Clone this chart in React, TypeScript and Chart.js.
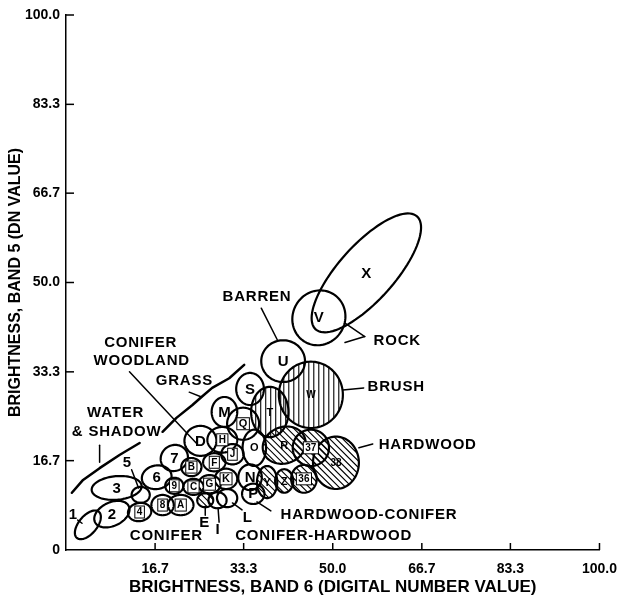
import React, { useEffect, useRef } from 'react';
import { Chart, registerables } from 'chart.js';

Chart.register(...registerables);

// ---- axis ticks ----
const xTickValues = [16.7, 33.3, 50.0, 66.7, 83.3, 100.0];
const xTickLabels = ['16.7', '33.3', '50.0', '66.7', '83.3', '100.0'];
const yTickValues = [0, 16.7, 33.3, 50.0, 66.7, 83.3, 100.0];
const yTickLabels = ['0', '16.7', '33.3', '50.0', '66.7', '83.3', '100.0'];

// ---- class ellipses (band 6 mean, band 5 mean, semi-axes, tilt, hatch) ----
const classNames = ['1', '2', '3', '4', '5', '6', '7', '8', '9', 'A', 'B', 'C', 'D', 'E', 'F', 'G', 'H', 'I', 'J', 'K', 'L', 'M', 'N', 'O', 'P', 'Q', 'R', 'S', 'T', 'U', 'V', 'W', 'X', 'Y', 'Z', '36', '37', '38'];
const meanBand6 = [4.1, 8.6, 9.5, 13.8, 14.0, 17.0, 20.3, 18.1, 20.3, 21.5, 23.5, 23.9, 25.2, 26.1, 27.8, 26.9, 29.3, 28.4, 31.2, 30.0, 30.2, 29.7, 34.5, 35.3, 35.1, 33.2, 40.9, 34.5, 38.2, 40.7, 47.4, 45.9, 56.3, 37.7, 40.9, 44.6, 45.9, 50.6];
const meanBand5 = [4.7, 6.7, 11.6, 7.1, 10.3, 13.6, 17.2, 8.4, 12.0, 8.4, 15.5, 11.8, 20.4, 9.3, 16.4, 12.3, 20.6, 9.3, 17.9, 13.3, 9.7, 25.8, 13.6, 19.1, 10.5, 23.6, 19.6, 30.1, 25.8, 35.3, 43.4, 29.0, 51.8, 12.7, 12.9, 13.3, 19.1, 16.3];
const semiMajor = [3.2, 3.5, 4.7, 2.2, 1.7, 2.8, 2.6, 2.1, 1.7, 2.4, 1.9, 1.9, 3.0, 1.5, 2.1, 2.1, 2.8, 1.7, 2.1, 2.1, 1.9, 2.8, 2.4, 3.4, 2.1, 3.0, 4.1, 3.0, 4.7, 4.1, 5.2, 6.2, 14.2, 3.0, 2.2, 2.6, 3.4, 4.9];
const semiMinor = [1.7, 2.2, 2.2, 1.7, 1.5, 2.2, 2.4, 1.9, 1.5, 1.9, 1.7, 1.5, 2.8, 1.3, 1.7, 1.7, 2.4, 1.5, 1.9, 1.9, 1.7, 2.4, 2.2, 2.2, 1.9, 3.0, 3.4, 2.6, 3.5, 3.9, 4.9, 6.0, 5.2, 1.9, 1.7, 2.4, 3.4, 4.3];
const tiltDeg = [50, 25, 5, 10, 0, 10, 30, 0, 0, 0, 0, 0, 0, 0, 0, 0, 0, 0, 0, 0, 0, 90, 90, 90, 0, 0, 20, 90, 90, 0, 60, 90, 48, 90, 90, 90, 0, 90];
const hatchKind = ['', '', '', '', '', '', '', '', '', '', '', '', '', 'd', '', '', '', '', '', '', '', '', '', '', '', '', 'd', '', 'v', '', '', 'v', '', 'd', 'd', 'd', 'd', 'd'];

// classes whose identifiers are written outside the ellipse
const outsideLabelled = ['1', '5', 'E', 'I', 'L'];

// ---- annotation texts ----
const noteTexts = ['BARREN', 'ROCK', 'BRUSH', 'HARDWOOD', 'HARDWOOD-CONIFER', 'CONIFER-HARDWOOD', 'CONIFER', 'CONIFER', 'WOODLAND', 'GRASS', 'WATER', '& SHADOW', '1', '5', 'E', 'I', 'L'];
const noteX = [35.8, 62.1, 61.9, 67.8, 56.8, 48.3, 18.8, 14.0, 14.2, 22.2, 9.3, 9.5, 1.3, 11.4, 25.9, 28.4, 34.0];
const noteY = [47.3, 39.1, 30.5, 19.6, 6.6, 2.6, 2.6, 38.7, 35.3, 31.6, 25.6, 22.1, 6.5, 16.3, 5.0, 3.7, 6.0];

// ---- leader lines ----
const leaderX1 = [36.6, 56.0, 56.0, 51.9, 54.9, 38.4, 11.9, 23.1, 6.3, 2.2, 12.3, 26.1, 28.7, 33.0];
const leaderY1 = [45.2, 39.9, 39.9, 29.9, 19.1, 7.3, 33.3, 29.5, 19.6, 5.6, 15.0, 6.5, 5.2, 7.5];
const leaderX2 = [39.6, 52.3, 52.3, 55.8, 57.5, 35.8, 24.4, 25.4, 6.3, 3.0, 13.6, 26.1, 28.5, 31.2];
const leaderY2 = [39.3, 42.4, 38.8, 30.3, 19.8, 9.0, 20.0, 28.6, 16.4, 5.0, 11.6, 8.2, 7.9, 8.8];

// ---- boundary curves ----
const grassLineX = [18.1, 20.7, 23.7, 25.4, 27.4, 30.6, 33.4];
const grassLineY = [22.1, 24.7, 27.1, 28.6, 30.3, 32.1, 34.6];
const waterLineX = [1.1, 3.2, 6.3, 10.1, 13.8];
const waterLineY = [10.7, 13.1, 15.3, 17.8, 20.0];

const FONT = '"Liberation Sans", Arial, Helvetica, sans-serif';
const bigIds = ['1', '2', '3', '5', '6', '7', 'D', 'M', 'S', 'U', 'V', 'X', 'N', 'P'];
const midIds = ['T', 'O', 'Y', 'Z', 'R', 'Q', 'K'];
const boxedIds = ['4', '8', '9', 'A', 'B', 'C', 'F', 'G', 'H', 'J', 'K', 'Q', '36', '37'];

const drawingPlugin = {
  id: 'ellipseDrawing',
  afterDatasetsDraw(chart: any) {
    const ctx = chart.ctx as CanvasRenderingContext2D;
    const xs = chart.scales.x;
    const ys = chart.scales.y;
    const px = (v: number) => xs.getPixelForValue(v);
    const py = (v: number) => ys.getPixelForValue(v);
    ctx.save();
    ctx.strokeStyle = '#000';
    ctx.fillStyle = '#000';

    // inward tick marks
    ctx.lineWidth = 1.5;
    const ca = chart.chartArea;
    yTickValues.forEach((v) => {
      if (v === 0) return;
      ctx.beginPath();
      ctx.moveTo(ca.left, py(v));
      ctx.lineTo(ca.left + 8, py(v));
      ctx.stroke();
    });
    xTickValues.forEach((v) => {
      ctx.beginPath();
      ctx.moveTo(px(v), ca.bottom);
      ctx.lineTo(px(v), ca.bottom - 7);
      ctx.stroke();
    });

    // ellipses
    const N = 96;
    classNames.forEach((name, i) => {
      const th = (tiltDeg[i] * Math.PI) / 180;
      const a = semiMajor[i];
      const b = semiMinor[i];
      const path = new Path2D();
      for (let k = 0; k <= N; k++) {
        const t = (2 * Math.PI * k) / N;
        const ex = a * Math.cos(t);
        const ey = b * Math.sin(t);
        const dx = ex * Math.cos(th) - ey * Math.sin(th);
        const dy = ex * Math.sin(th) + ey * Math.cos(th);
        const X = px(meanBand6[i] + dx);
        const Y = py(meanBand5[i] + dy);
        if (k === 0) path.moveTo(X, Y);
        else path.lineTo(X, Y);
      }
      path.closePath();
      if (hatchKind[i]) {
        ctx.save();
        ctx.clip(path);
        ctx.lineWidth = 1.1;
        const cx = px(meanBand6[i]);
        const cy = py(meanBand5[i]);
        const R = Math.abs(px(a) - px(0)) + 4;
        ctx.beginPath();
        if (hatchKind[i] === 'v') {
          for (let o = -R; o <= R; o += 5) {
            ctx.moveTo(cx + o, cy - R);
            ctx.lineTo(cx + o, cy + R);
          }
        } else {
          for (let o = -2 * R; o <= 2 * R; o += 6.5) {
            ctx.moveTo(cx + o - R, cy - R);
            ctx.lineTo(cx + o + R, cy + R);
          }
        }
        ctx.stroke();
        ctx.restore();
      }
      ctx.lineWidth = 2.2;
      ctx.stroke(path);
    });

    // class labels
    ctx.textAlign = 'center';
    ctx.textBaseline = 'middle';
    classNames.forEach((name, i) => {
      if (outsideLabelled.includes(name)) return;
      const size = bigIds.includes(name) ? 15 : midIds.includes(name) ? 11 : 10;
      ctx.font = `bold ${size}px ${FONT}`;
      const X = px(meanBand6[i]);
      const Y = py(meanBand5[i]);
      if (boxedIds.includes(name)) {
        const w = ctx.measureText(name).width + 4;
        ctx.fillStyle = '#fff';
        ctx.fillRect(X - w / 2, Y - 6, w, 12);
        ctx.lineWidth = 1;
        ctx.strokeRect(X - w / 2, Y - 6, w, 12);
      }
      ctx.fillStyle = '#000';
      ctx.fillText(name, X, Y + 0.5);
    });

    // boundary curves
    ctx.lineWidth = 2.5;
    ctx.lineCap = 'round';
    ctx.lineJoin = 'round';
    [[grassLineX, grassLineY], [waterLineX, waterLineY]].forEach(([lx, ly]) => {
      ctx.beginPath();
      lx.forEach((v, k) => {
        if (k === 0) ctx.moveTo(px(v), py(ly[k]));
        else ctx.lineTo(px(v), py(ly[k]));
      });
      ctx.stroke();
    });

    // leader lines
    ctx.lineWidth = 1.5;
    leaderX1.forEach((v, k) => {
      ctx.beginPath();
      ctx.moveTo(px(v), py(leaderY1[k]));
      ctx.lineTo(px(leaderX2[k]), py(leaderY2[k]));
      ctx.stroke();
    });

    // annotation texts
    noteTexts.forEach((txt, k) => {
      const size = 15;
      ctx.font = `bold ${size}px ${FONT}`;
      (ctx as any).letterSpacing = txt.length === 1 ? '0px' : '0.8px';
      ctx.fillStyle = '#000';
      ctx.fillText(txt, px(noteX[k]), py(noteY[k]));
    });
    (ctx as any).letterSpacing = '0px';
    ctx.restore();
  },
};

export default function App() {
  const canvasRef = useRef<HTMLCanvasElement | null>(null);

  useEffect(() => {
    if (!canvasRef.current) return;
    const font = { family: FONT, size: 14, weight: 'bold' as const };
    const chart = new Chart(canvasRef.current, {
      type: 'scatter',
      data: {
        datasets: [
          {
            data: classNames.map((_, i) => ({ x: meanBand6[i], y: meanBand5[i] })),
            pointRadius: 0,
            showLine: false,
          },
        ],
      },
      options: {
        animation: false,
        responsive: false,
        layout: { padding: { top: 15, right: 26, left: 0, bottom: 0 } },
        plugins: { legend: { display: false }, tooltip: { enabled: false } },
        scales: {
          x: {
            type: 'linear',
            min: 0,
            max: 100,
            afterBuildTicks: (s: any) => {
              s.ticks = xTickValues.map((v) => ({ value: v }));
            },
            afterFit: (s: any) => {
              s.height = 52;
            },
            ticks: {
              callback: (_v: any, i: number) => xTickLabels[i],
              color: '#000',
              font,
              padding: 11,
              autoSkip: false,
              maxRotation: 0,
            },
            grid: { display: false, drawTicks: false },
            border: { display: true, color: '#000', width: 1.5 },
            title: {
              display: true,
              text: 'BRIGHTNESS, BAND 6 (DIGITAL NUMBER VALUE)',
              color: '#000',
              font: { family: FONT, size: 17, weight: 'bold' as const },
              padding: { top: 2, bottom: 4 },
            },
          },
          y: {
            type: 'linear',
            min: 0,
            max: 100,
            afterBuildTicks: (s: any) => {
              s.ticks = yTickValues.map((v) => ({ value: v }));
            },
            afterFit: (s: any) => {
              s.width = 66;
            },
            ticks: {
              callback: (_v: any, i: number) => yTickLabels[i],
              color: '#000',
              font,
              padding: 6,
              autoSkip: false,
            },
            grid: { display: false, drawTicks: false },
            border: { display: true, color: '#000', width: 1.5 },
            title: {
              display: true,
              text: 'BRIGHTNESS, BAND 5 (DN VALUE)',
              color: '#000',
              font: { family: FONT, size: 16, weight: 'bold' as const },
              padding: { top: 6, bottom: 0 },
            },
          },
        },
      },
      plugins: [drawingPlugin],
    });
    return () => chart.destroy();
  }, []);

  return (
    <div style={{ position: 'absolute', left: 0, top: 0, width: 628, height: 602, background: '#fff' }}>
      <canvas ref={canvasRef} width={628} height={602} style={{ display: 'block' }} />
    </div>
  );
}
